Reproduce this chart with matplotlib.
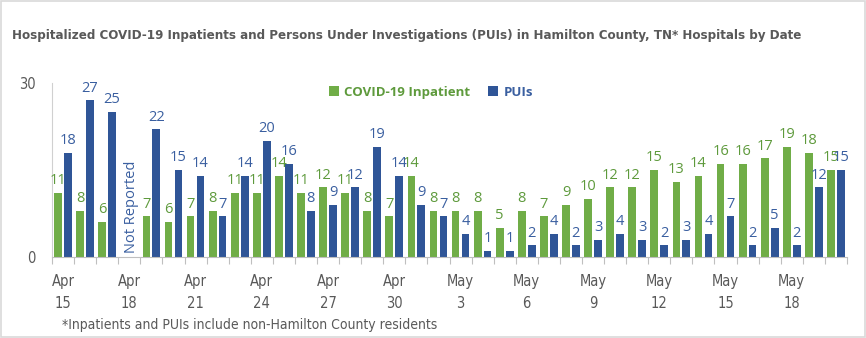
import numpy as np
import matplotlib
matplotlib.use("Agg")
import matplotlib.pyplot as plt
from matplotlib.patches import Rectangle
from matplotlib.ticker import FixedLocator

dates = ["Apr 15","Apr 16","Apr 17","Apr 18","Apr 19","Apr 20","Apr 21","Apr 22","Apr 23",
         "Apr 24","Apr 25","Apr 26","Apr 27","Apr 28","Apr 29","Apr 30",
         "May 1","May 2","May 3","May 4","May 5","May 6","May 7","May 8","May 9","May 10",
         "May 11","May 12","May 13","May 14","May 15","May 16","May 17","May 18","May 19","May 20"]
inpatient = [11, 8, 6, np.nan, 7, 6, 7, 8, 11, 11, 14, 11, 12, 11, 8, 7,
             14, 8, 8, 8, 5, 8, 7, 9, 10, 12, 12, 15, 13, 14, 16, 16, 17, 19, 18, 15]
puis = [18, 27, 25, np.nan, 22, 15, 14, 7, 14, 20, 16, 8, 9, 12, 19, 14,
        9, 7, 4, 1, 1, 2, 4, 2, 3, 4, 3, 2, 3, 4, 7, 2, 5, 2, 12, 15]
tick_idx = list(range(0, 36, 3))
tick_labels = [dates[i].replace(" ", "\n") for i in tick_idx]

GREEN = "#70AD47"
BLUE = "#2F5597"
GREEN_TXT = "#5E9A3C"
BLUE_TXT = "#3A5FA0"
GRAY = "#595959"
NARROW = dict(family="DejaVu Sans", stretch="condensed")
LABF = ["Open Sans", "DejaVu Sans"]

fig = plt.figure(figsize=(8.66, 3.38), dpi=100)
fig.patches.append(Rectangle((0.0015, 0.003), 0.997, 0.994, transform=fig.transFigure,
                             fill=False, edgecolor="#D9D9D9", linewidth=1.2))
ax = fig.add_axes([52/866, 1-257/338, (847-52)/866, (257-83)/338])

x = np.arange(len(dates))
w = 0.35
off = 0.225
ax.bar(x - off, inpatient, width=w, color=GREEN, label="COVID-19 Inpatient")
ax.bar(x + off, puis, width=w, color=BLUE, label="PUIs")

for xi, v in zip(x, inpatient):
    if not np.isnan(v):
        ax.annotate(f"{int(v)}", (xi - off, v), xytext=(0, 3.5), textcoords="offset points",
                    ha="center", va="bottom", fontsize=10.5, color=GREEN_TXT, family=LABF,
                    annotation_clip=False)
for xi, v in zip(x, puis):
    if not np.isnan(v):
        ax.annotate(f"{int(v)}", (xi + off, v), xytext=(0, 3.5), textcoords="offset points",
                    ha="center", va="bottom", fontsize=10.5, color=BLUE_TXT, family=LABF,
                    annotation_clip=False)

ax.text(3 + 0.1, 0.7, "Not Reported", rotation=90, ha="center", va="bottom",
        fontsize=10.5, color=BLUE_TXT, family=LABF)

ax.set_xlim(-0.5, len(dates) - 0.5)
ax.set_ylim(0, 30)
ax.set_yticks([0, 30])
ax.set_yticklabels(["0", "30"], fontsize=10.5, color=GRAY, **NARROW)
ax.tick_params(axis="y", length=0, pad=12)

ax.set_xticks(tick_idx)
ax.set_xticklabels(tick_labels, fontsize=10.5, color=GRAY, linespacing=1.6, **NARROW)
ax.tick_params(axis="x", which="major", length=0, pad=12)
ax.xaxis.set_minor_locator(FixedLocator(np.arange(-0.5, len(dates), 1.0)))
ax.tick_params(axis="x", which="minor", length=5, color="#BFBFBF", width=0.8)

for s in ["top", "right"]:
    ax.spines[s].set_visible(False)
ax.spines["bottom"].set_color("#BFBFBF")
ax.spines["left"].set_color("#D0D0D0")
ax.spines["left"].set_linewidth(0.8)

fig.text(12/866, 1-35/338, "Hospitalized COVID-19 Inpatients and Persons Under Investigations (PUIs) in Hamilton County, TN* Hospitals by Date",
         fontsize=9.55, fontweight="bold", color=GRAY, va="center", ha="left", **NARROW)
fig.text(62/866, 1-325/338, "*Inpatients and PUIs include non-Hamilton County residents",
         fontsize=10, color=GRAY, va="center", ha="left", **NARROW)

leg = fig.legend(loc="center", bbox_to_anchor=(431/866, 1-92/338), ncol=2, frameon=False,
                 prop={"family": LABF, "size": 9.5, "weight": "bold"},
                 handlelength=0.75, handleheight=0.75, handletextpad=0.4, columnspacing=1.4)
for t, c in zip(leg.get_texts(), [GREEN_TXT, BLUE_TXT]):
    t.set_color(c)

fig.savefig("out.png", dpi=100)
